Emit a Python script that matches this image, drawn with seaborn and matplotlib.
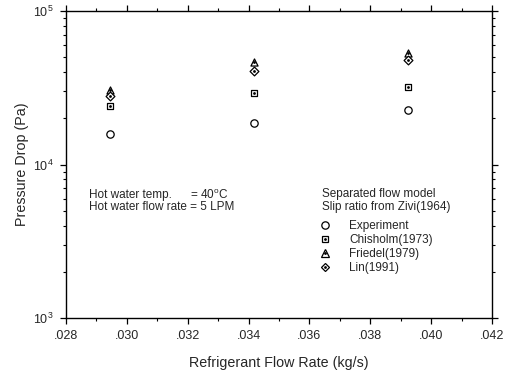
import numpy as np
import pandas as pd
import matplotlib
matplotlib.use("Agg")
import matplotlib.pyplot as plt
import seaborn as sns
from matplotlib.lines import Line2D
from matplotlib.legend_handler import HandlerTuple
from matplotlib.ticker import MultipleLocator, FuncFormatter, LogLocator

# data
flow_rate = [0.02945, 0.03417, 0.03925]
experiment = [15800, 18600, 22600]
chisholm = [24000, 29100, 32100]
friedel = [30800, 46800, 53000]
lin = [28100, 40600, 48300]

series_names = ["Experiment", "Chisholm(1973)", "Friedel(1979)", "Lin(1991)"]
series_vals = [experiment, chisholm, friedel, lin]
series_markers = ["o", "s", "^", "D"]
series_sizes = [28, 22, 26, 20]
series_dot = [False, True, True, True]

rows = []
for name, vals in zip(series_names, series_vals):
    for x, y in zip(flow_rate, vals):
        rows.append({"flow": x, "dp": y, "model": name})
df = pd.DataFrame(rows)

sns.set_style("ticks")
plt.rcParams["font.family"] = ["Liberation Sans", "DejaVu Sans"]
plt.rcParams["mathtext.fontset"] = "custom"
plt.rcParams["mathtext.rm"] = "Liberation Sans"

fig = plt.figure(figsize=(5.09, 3.77), dpi=100)
ax = fig.add_axes([0.1297, 0.1565, 0.8369, 0.8143])

handles = []
for name, m, s, dot in zip(series_names, series_markers, series_sizes, series_dot):
    sub = df[df["model"] == name]
    sns.scatterplot(data=sub, x="flow", y="dp", marker=m, s=s, facecolor="white",
                    edgecolor="black", linewidth=0.9, ax=ax, legend=False, zorder=3)
    h = Line2D([], [], linestyle="none", marker=m, markersize=np.sqrt(s),
               markerfacecolor="white", markeredgecolor="black", markeredgewidth=0.9)
    if dot:
        sns.scatterplot(data=sub, x="flow", y="dp", marker="o", s=4, color="black",
                        linewidth=0, ax=ax, legend=False, zorder=4)
        d = Line2D([], [], linestyle="none", marker="o", markersize=2,
                   markerfacecolor="black", markeredgewidth=0)
        handles.append((h, d))
    else:
        handles.append(h)

ax.set_yscale("log")
ax.set_xlim(0.028, 0.042)
ax.set_ylim(1e3, 1e5)
ax.xaxis.set_major_locator(MultipleLocator(0.002))
ax.xaxis.set_minor_locator(MultipleLocator(0.001))
ax.xaxis.set_major_formatter(FuncFormatter(lambda v, p: ("%.3f" % v).lstrip("0")))
ax.yaxis.set_major_locator(LogLocator(base=10, numticks=5))
ax.yaxis.set_minor_locator(LogLocator(base=10, subs=np.arange(2, 10), numticks=20))

for sp in ax.spines.values():
    sp.set_visible(True)
    sp.set_linewidth(1.0)
    sp.set_color("black")
ax.tick_params(which="both", direction="out", top=True, right=True,
               labeltop=False, labelright=False, color="black")
ax.tick_params(which="major", length=4, width=0.9, labelsize=9, pad=5)
ax.tick_params(which="minor", length=2.5, width=0.8)

ax.set_xlabel("Refrigerant Flow Rate (kg/s)", fontsize=10.3, labelpad=10)
ax.set_ylabel("Pressure Drop (Pa)", fontsize=10.3, labelpad=3)

ax.text(0.054, 0.40, "Hot water temp.", transform=ax.transAxes, fontsize=8.5, va="center")
ax.text(0.292, 0.40, r"= 40$^{\rm o}$C", transform=ax.transAxes, fontsize=8.5, va="center")
ax.text(0.054, 0.36, "Hot water flow rate = 5 LPM", transform=ax.transAxes,
        fontsize=8.5, va="center")

ax.text(0.601, 0.405, "Separated flow model", transform=ax.transAxes,
        fontsize=8.5, va="center")
ax.text(0.601, 0.363, "Slip ratio from Zivi(1964)", transform=ax.transAxes,
        fontsize=8.5, va="center")

ax.legend(handles, series_names, loc="upper left", bbox_to_anchor=(0.592, 0.318),
          frameon=False, fontsize=8.5, handler_map={tuple: HandlerTuple(ndivide=1)},
          handlelength=1.2, handletextpad=1.4, labelspacing=0.17, borderpad=0,
          borderaxespad=0)

fig.savefig("out.png", dpi=100)
